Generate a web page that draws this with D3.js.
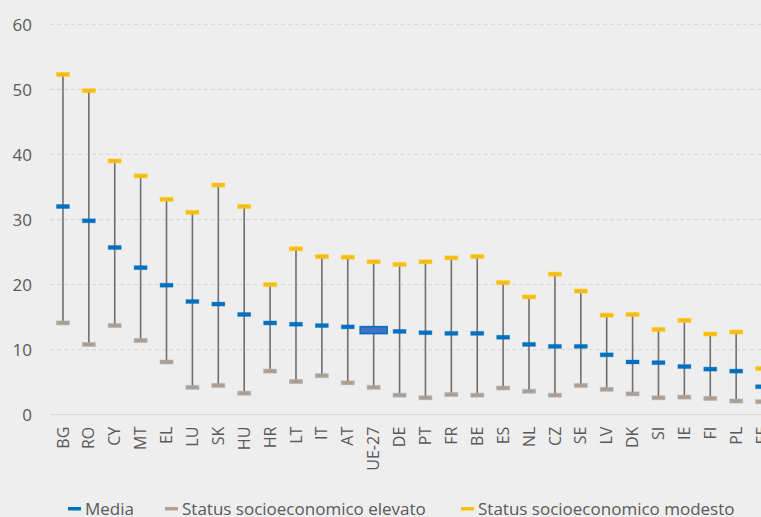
<!DOCTYPE html>
<html><head><meta charset="utf-8">
<script src="https://cdn.jsdelivr.net/npm/d3@7"></script>
<style>
html,body{margin:0;padding:0;background:#eeeeee;overflow:hidden;}
svg{display:block;font-family:"Open Sans",sans-serif;}
</style></head>
<body>
<svg id="chart" width="761" height="517"></svg>
<script>
const categories = ["BG","RO","CY","MT","EL","LU","SK","HU","HR","LT","IT","AT","UE-27","DE","PT","FR","BE","ES","NL","CZ","SE","LV","DK","SI","IE","FI","PL","EE"];
const media   = [32.0,29.8,25.7,22.6,19.9,17.4,17.0,15.4,14.1,13.9,13.7,13.5,13.0,12.8,12.6,12.5,12.5,11.9,10.8,10.5,10.5,9.2,8.1,8.0,7.4,7.0,6.7,4.3];
const elevato = [14.1,10.8,13.7,11.4,8.1,4.2,4.5,3.3,6.7,5.1,6.0,4.9,4.2,3.0,2.6,3.1,3.0,4.1,3.6,3.0,4.5,3.9,3.2,2.6,2.7,2.5,2.1,2.0];
const modesto = [52.3,49.8,39.0,36.7,33.1,31.1,35.3,32.0,20.0,25.5,24.3,24.2,23.5,23.1,23.5,24.1,24.3,20.3,18.1,21.6,19.0,15.3,15.4,13.1,14.5,12.4,12.7,7.1];
const yTicks = [0,10,20,30,40,50,60];
const legendLabels = ["Media","Status socioeconomico elevato","Status socioeconomico modesto"];

const svg = d3.select("#chart");
const x = d3.scaleBand().domain(categories).range([50, 775]).padding(0);
const y = d3.scaleLinear().domain([0, 60]).range([414.7, 24.3]);
const cx = c => x(c) + x.bandwidth() / 2;

// gridlines
svg.append("g").selectAll("line").data(yTicks.filter(t => t > 0)).join("line")
  .attr("x1", 50).attr("x2", 761)
  .attr("y1", d => y(d)).attr("y2", d => y(d))
  .attr("stroke", "#d9d9d9").attr("stroke-width", 1.3).attr("stroke-dasharray", "4,3");
svg.append("line").attr("x1", 50).attr("x2", 761).attr("y1", y(0)).attr("y2", y(0))
  .attr("stroke", "#d9d9d9").attr("stroke-width", 1.3);

// y axis labels
const yAxis = d3.axisLeft(y).tickValues(yTicks).tickSize(0).tickPadding(0);
const gy = svg.append("g").attr("transform", "translate(32,0)").call(yAxis);
gy.select(".domain").remove();
gy.selectAll("text").attr("fill", "#595959").attr("font-size", 17).attr("font-family", "Open Sans, sans-serif").attr("dy", "0.35em");

// x axis labels
const xAxis = d3.axisBottom(x).tickSize(0).tickPadding(0);
const gx = svg.append("g").attr("transform", `translate(0,${y(0) + 12})`).call(xAxis);
gx.select(".domain").remove();
gx.selectAll("text").attr("fill", "#595959").attr("font-size", 16).attr("font-family", "Open Sans, sans-serif")
  .attr("transform", "rotate(-90)").attr("text-anchor", "end").attr("x", 0).attr("y", 0).attr("dy", "0.35em");

// vertical lines
const idx = d3.range(categories.length);
svg.append("g").selectAll("line").data(idx).join("line")
  .attr("x1", i => cx(categories[i])).attr("x2", i => cx(categories[i]))
  .attr("y1", i => y(elevato[i])).attr("y2", i => y(modesto[i]))
  .attr("stroke", "#6f6f6f").attr("stroke-width", 1.6);

function markers(vals, fill, halo, inner) {
  const g = svg.append("g");
  g.selectAll("rect.o").data(idx).join("rect")
    .attr("x", i => cx(categories[i]) - 6.5).attr("y", i => y(vals[i]) - 2)
    .attr("width", 13).attr("height", 4).attr("fill", fill)
    .attr("stroke", halo).attr("stroke-width", 1);
  if (inner) g.selectAll("line").data(idx).join("line")
    .attr("x1", i => cx(categories[i]) - 4).attr("x2", i => cx(categories[i]) + 4)
    .attr("y1", i => y(vals[i])).attr("y2", i => y(vals[i]))
    .attr("stroke", inner).attr("stroke-width", 1);
}
markers(modesto, "#FFC000", "rgba(255,192,0,0.4)", "#d6b560");
markers(elevato, "#a8a5a2", "rgba(165,165,165,0.4)", "#c0906a");
markers(media, "#0070C0", "rgba(0,112,192,0.3)", null);

// UE-27 emphasized mean
const ue = categories.indexOf("UE-27");
svg.append("rect").attr("x", cx("UE-27") - 13.5).attr("y", y(media[ue]) - 3.5)
  .attr("width", 27).attr("height", 7).attr("fill", "#4472C4").attr("stroke", "#0070C0").attr("stroke-width", 1.5);

// legend
const legend = [
  {label: legendLabels[0], color: "#0070C0", sx: 68},
  {label: legendLabels[1], color: "#b8a090", sx: 165},
  {label: legendLabels[2], color: "#FFC000", sx: 461}
];
const lg = svg.append("g");
legend.forEach(d => {
  lg.append("rect").attr("x", d.sx).attr("y", 507).attr("width", 13).attr("height", 3.5).attr("fill", d.color);
  lg.append("text").attr("x", d.sx + 17).attr("y", 514.5)
    .attr("fill", "#595959").attr("font-size", 17).attr("font-family", "Open Sans, sans-serif").text(d.label);
});
</script>
</body></html>
